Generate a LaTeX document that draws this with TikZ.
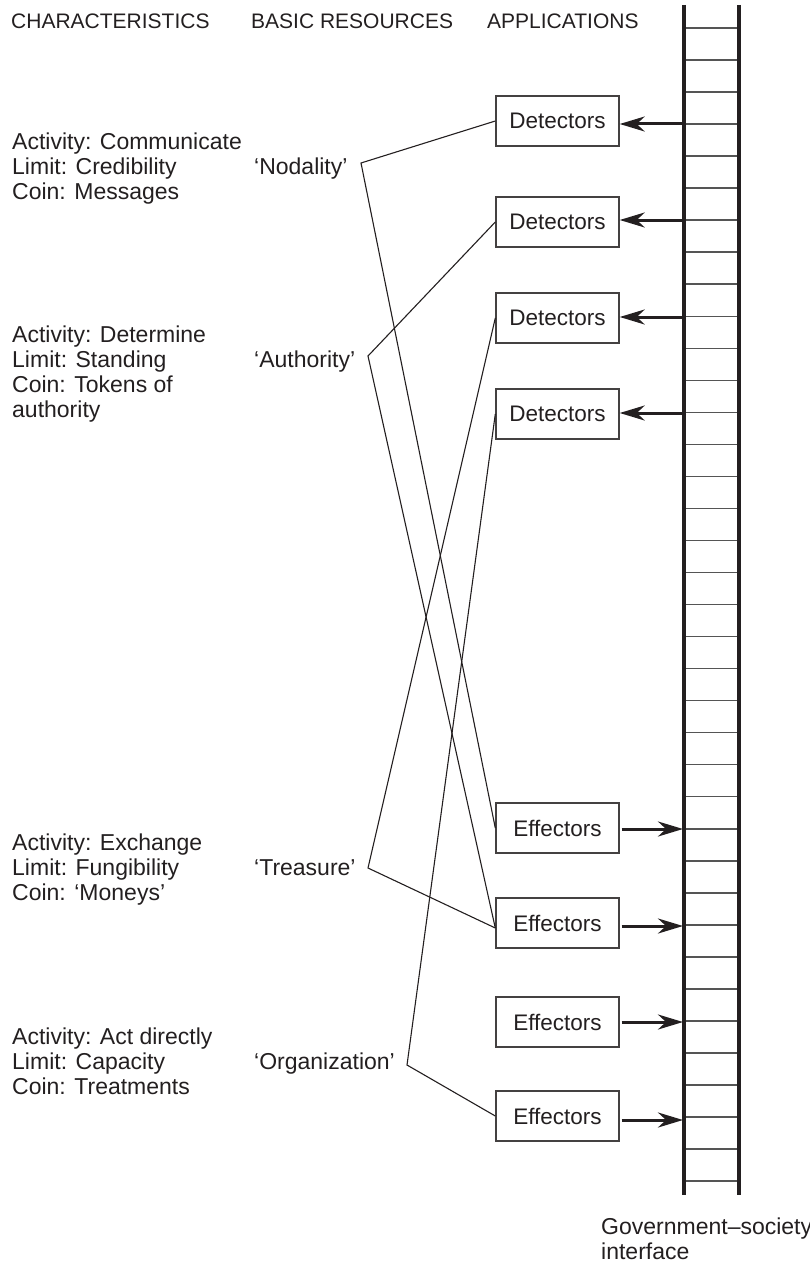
\documentclass[tikz,border=0pt]{standalone}
\usepackage{fontspec}
\setmainfont{Liberation Sans}
\usetikzlibrary{arrows.meta}
\definecolor{ink}{RGB}{35,31,32}
\definecolor{rungc}{RGB}{85,85,85}
\begin{document}
\begin{tikzpicture}[x=1pt,y=-1pt,
  txt/.style={font=\fontsize{23}{25}\selectfont, text=ink, inner sep=0pt, anchor=base west},
  hdr/.style={font=\fontsize{21}{24}\selectfont, text=ink, inner sep=0pt, anchor=base west},
  box/.style={draw=ink!85, line width=1.4pt, minimum width=123pt, minimum height=50pt, inner sep=0pt, font=\fontsize{22.5}{24}\selectfont, text=ink},
  link/.style={draw=ink, line width=1.1pt},
  arr/.style={draw=ink, line width=3pt, -{Stealth[length=25pt,width=15pt,inset=8pt]}},
  rail/.style={draw=ink, line width=3.2pt},
  rungl/.style={draw=rungc, line width=1.5pt}]
\useasboundingbox (0,0) rectangle (810,1268);

% headers
\node[hdr] (h1) at (11,29) {CHARACTERISTICS};
\node[hdr] (h2) at (251,29) {BASIC RESOURCES};
\node[hdr] (h3) at (487,29) {APPLICATIONS};

% characteristics
\node[txt] (c1a) at (12,150) {Activity: Communicate};
\node[txt] (c1b) at (12,175) {Limit: Credibility};
\node[txt] (c1c) at (12,200) {Coin: Messages};
\node[txt] (c2a) at (12,342) {Activity: Determine};
\node[txt] (c2b) at (12,367) {Limit: Standing};
\node[txt] (c2c) at (12,392) {Coin: Tokens of};
\node[txt] (c2d) at (12,417) {authority};
\node[txt] (c3a) at (12,850) {Activity: Exchange};
\node[txt] (c3b) at (12,875) {Limit: Fungibility};
\node[txt] (c3c) at (12,900) {Coin: ‘Moneys’};
\node[txt] (c4a) at (12,1044) {Activity: Act directly};
\node[txt] (c4b) at (12,1069) {Limit: Capacity};
\node[txt] (c4c) at (12,1094) {Coin: Treatments};

% resources
\node[txt] (rn) at (254,175) {‘Nodality’};
\node[txt] (ra) at (254,367) {‘Authority’};
\node[txt] (rt) at (254,875) {‘Treasure’};
\node[txt] (ro) at (254,1069) {‘Organization’};
\coordinate (vn) at (361,163);
\coordinate (va) at (368,356);
\coordinate (vt) at (368,868);
\coordinate (vo) at (407,1065);

% boxes
\node[box] (d1) at (557.5,121) {Detectors};
\node[box] (d2) at (557.5,222) {Detectors};
\node[box] (d3) at (557.5,318) {Detectors};
\node[box] (d4) at (557.5,414) {Detectors};
\node[box] (e1) at (557.5,828) {Effectors};
\node[box] (e2) at (557.5,923) {Effectors};
\node[box] (e3) at (557.5,1022) {Effectors};
\node[box] (e4) at (557.5,1116) {Effectors};

% links
\draw[link] (d1.west) -- (vn) -- (e1.west);
\draw[link] (d2.west) -- (va) -- ([yshift=-5pt]e2.west);
\draw[link] (d3.west) -- (vt) -- ([yshift=-5pt]e2.west);
\draw[link] (d4.west) -- (vo) -- (e4.west);

% ladder
\foreach \k in {0,...,36} {
  \draw[rungl] (684,{28+32.03*\k}) -- (739,{28+32.03*\k});
}
\draw[rail] (684,5) -- (684,1195);
\draw[rail] (739,5) -- (739,1195);

% rail points
\coordinate (rd1) at (686,124);
\coordinate (rd2) at (686,220);
\coordinate (rd3) at (686,317);
\coordinate (rd4) at (686,413);
\coordinate (re1) at (683,829);
\coordinate (re2) at (683,926);
\coordinate (re3) at (683,1022);
\coordinate (re4) at (683,1120);

\draw[arr] (rd1) -- (d1.east |- rd1);
\draw[arr] (rd2) -- (d2.east |- rd2);
\draw[arr] (rd3) -- (d3.east |- rd3);
\draw[arr] (rd4) -- (d4.east |- rd4);
\draw[arr, shorten <=2pt] (e1.east |- re1) -- (re1);
\draw[arr, shorten <=2pt] (e2.east |- re2) -- (re2);
\draw[arr, shorten <=2pt] (e3.east |- re3) -- (re3);
\draw[arr, shorten <=2pt] (e4.east |- re4) -- (re4);

% interface label
\node[txt] (g1) at (601,1234) {Government–society};
\node[txt] (g2) at (601,1259) {interface};
\end{tikzpicture}
\end{document}
